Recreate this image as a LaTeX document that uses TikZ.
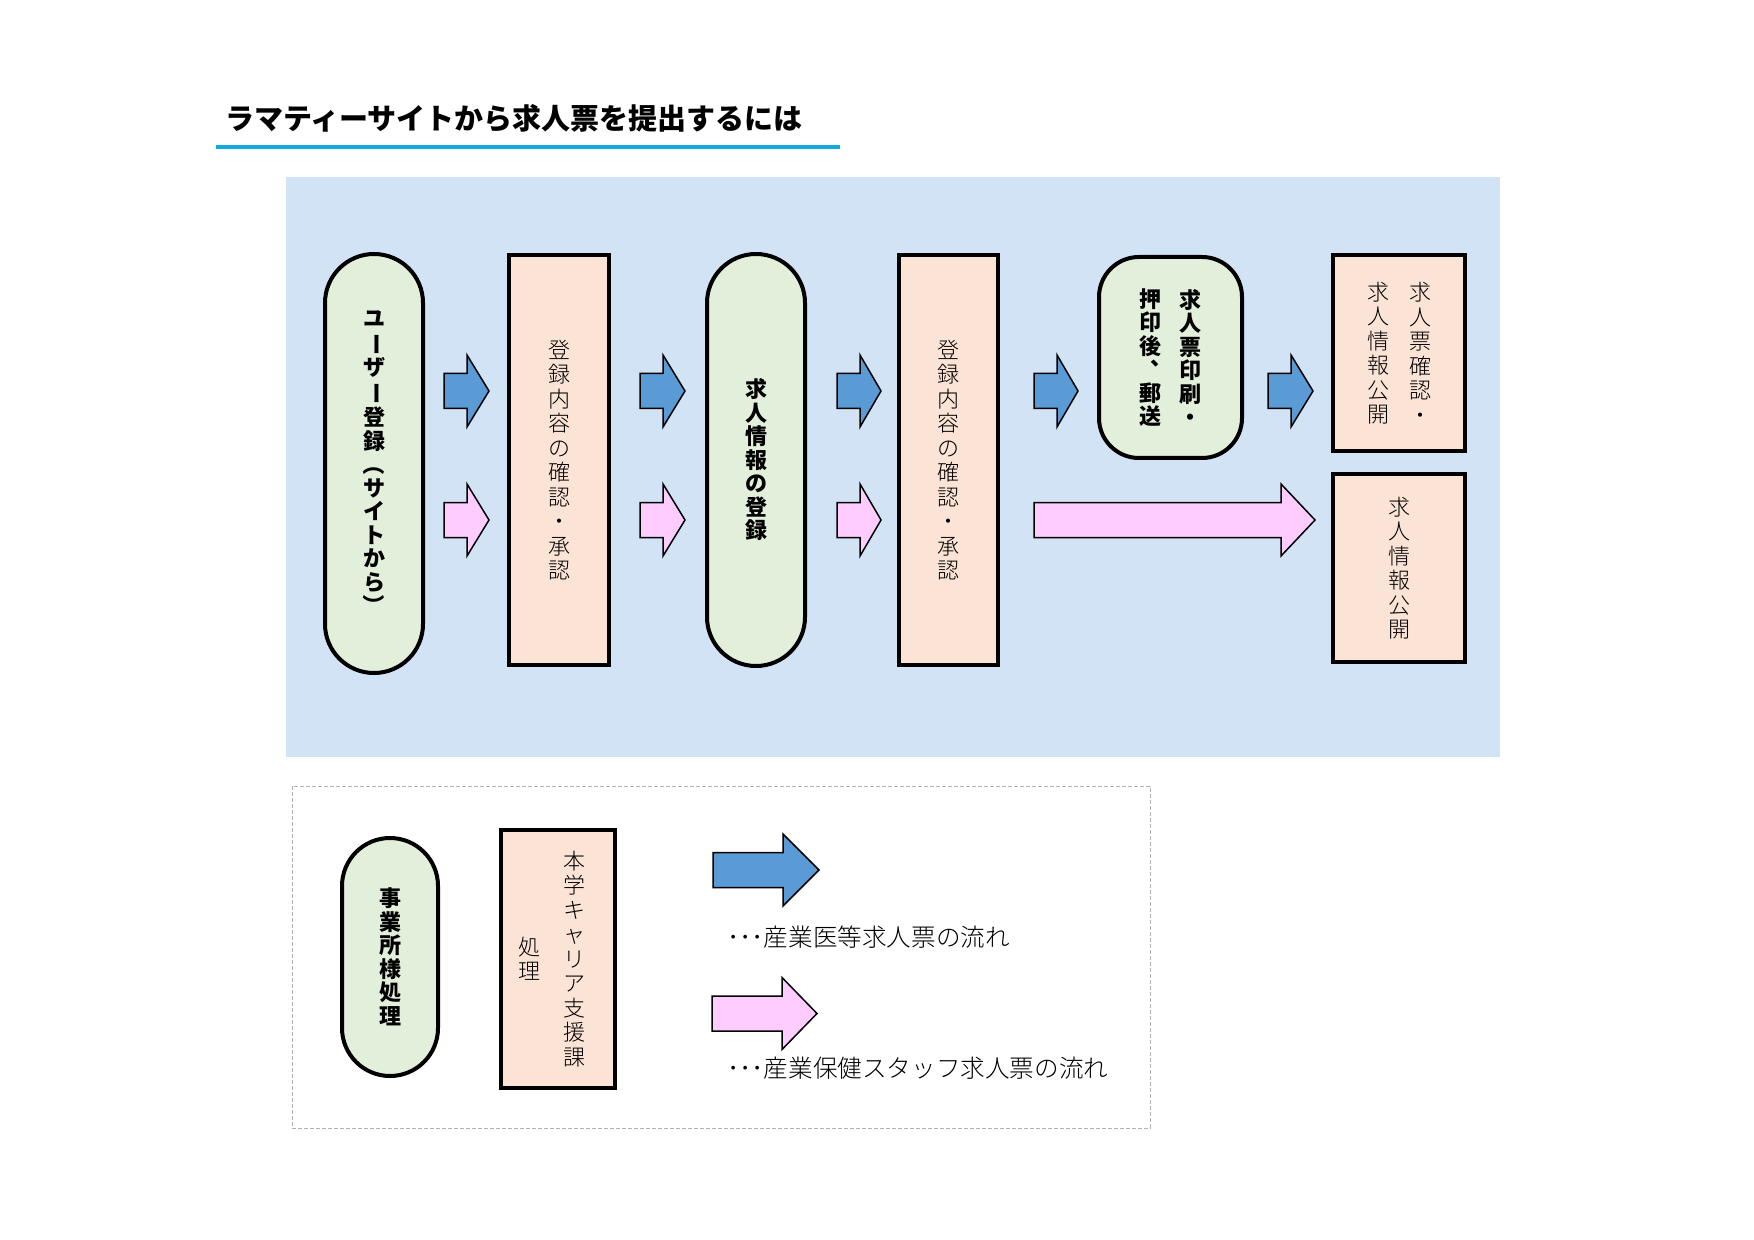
\documentclass[tikz,border=0pt]{standalone}
\usepackage{fontspec}
\usepackage{graphicx}
\setmainfont{Noto Sans CJK JP}
\newfontfamily\thinjp{Noto Sans CJK JP Light}

\definecolor{bgblue}{HTML}{D2E3F5}
\definecolor{procgreen}{HTML}{E2EFDA}
\definecolor{procpeach}{HTML}{FBE4D6}
\definecolor{flowblue}{HTML}{5B9BD5}
\definecolor{flowpink}{HTML}{FFCCFF}
\definecolor{titlecyan}{HTML}{14A8E0}

% vertical (tate) text: one character per line
\makeatletter
\def\tate@stop{\tate@stop}
\newcommand\tate[1]{$\vcenter{\tate@go#1\tate@stop}$}
\def\tate@go#1{\ifx#1\tate@stop\else\hbox to 1em{\hss#1\hss}\expandafter\tate@go\fi}
\makeatother
\newcommand\vbar{\rotatebox[origin=c]{-90}{ー}}
\newcommand\vlp{\rotatebox[origin=c]{-90}{（}}
\newcommand\vrp{\rotatebox[origin=c]{-90}{）}}
\newcommand\vten{\raisebox{0.55em}[0.8em][0.1em]{\kern0.5em 、\kern-0.5em}}

\newcommand\blockarrow[5]{%
	\draw[#1] (#2,#5-17.5) -- (#3,#5-17.5) -- (#3,#5-36) -- (#4,#5) -- (#3,#5+36) -- (#3,#5+17.5) -- (#2,#5+17.5) -- cycle;}

\tikzset{
	userbox/.style={draw, line width=2pt, fill=procgreen, inner sep=0pt, font=\bfseries\fontsize{11}{11.75}\selectfont},
	staffbox/.style={draw, line width=2pt, fill=procpeach, inner sep=0pt, font=\thinjp\fontsize{11}{12.25}\selectfont},
	medflow/.style={draw, line width=0.75pt, fill=flowblue},
	staffflow/.style={draw, line width=0.75pt, fill=flowpink},
}

\begin{document}
\begin{tikzpicture}[x=0.5pt, y=-0.5pt]
	\useasboundingbox (0,0) rectangle (1754,1240);
	% title
	\node[anchor=west, font=\bfseries\fontsize{14.5}{16}\selectfont] (title) at (218,118) {ラマティーサイトから求人票を提出するには};
	\draw[titlecyan, line width=2pt] (216,147) -- (840,147);
	% flow area
	\fill[bgblue] (286,177) rectangle (1500,757);
	\node[userbox, rounded corners=24.5pt, minimum width=49pt, minimum height=209.5pt] (user) at (374,463.5) {\tate{ユ\vbar ザ\vbar 登録\vlp サイトから\vrp}};
	\node[staffbox, minimum width=50pt, minimum height=205pt] (check1) at (559,460) {\tate{登録内容の確認・承認}};
	\node[userbox, rounded corners=24.5pt, minimum width=49pt, minimum height=206pt] (jobinfo) at (756,460) {\tate{求人情報の登録}};
	\node[staffbox, minimum width=49.5pt, minimum height=205pt] (check2) at (948.5,460) {\tate{登録内容の確認・承認}};
	\node[userbox, rounded corners=20pt, minimum width=71.5pt, minimum height=100.5pt] (mail) at (1170.5,357.5) {\tate{押印後\vten 郵送}\hspace{9pt}\tate{求人票印刷・}};
	\node[staffbox, minimum width=66pt, minimum height=98pt] (publish1) at (1399,353) {\tate{求人情報公開}\hspace{10pt}\tate{求人票確認・}};
	\node[staffbox, minimum width=66pt, minimum height=94pt] (publish2) at (1399,568) {\tate{求人情報公開}};
	% arrows
	\blockarrow{medflow}{444}{467}{489}{391}
	\blockarrow{staffflow}{444}{467}{489}{520}
	\blockarrow{medflow}{640}{663}{685}{391}
	\blockarrow{staffflow}{640}{663}{685}{520}
	\blockarrow{medflow}{837}{860}{881}{391}
	\blockarrow{staffflow}{837}{860}{881}{520}
	\blockarrow{medflow}{1034}{1057}{1078}{391}
	\blockarrow{medflow}{1268}{1291}{1313}{391}
	\blockarrow{staffflow}{1034}{1281}{1315}{520}
	% legend
	\draw[gray!60, line width=0.5pt, dash pattern=on 2pt off 1pt] (292,786) rectangle (1150,1128);
	\node[userbox, rounded corners=24pt, minimum width=48pt, minimum height=119pt] (legcompany) at (390,957) {\tate{事業所様処理}};
	\node[staffbox, minimum width=57pt, minimum height=129pt] (legcareer) at (558,959) {\tate{処理}\hspace{11.5pt}\tate{本学キャリア支援課}\kern6pt};
	\blockarrow{medflow}{713}{783}{819}{870}
	\blockarrow{staffflow}{712}{782}{817}{1013.5}
	\node[anchor=west, font=\thinjp\fontsize{12.3}{14}\selectfont] (legmed) at (720,937) {･･･産業医等求人票の流れ};
	\node[anchor=west, font=\thinjp\fontsize{12.3}{14}\selectfont] (legstaff) at (720,1068) {･･･産業保健スタッフ求人票の流れ};
\end{tikzpicture}
\end{document}
